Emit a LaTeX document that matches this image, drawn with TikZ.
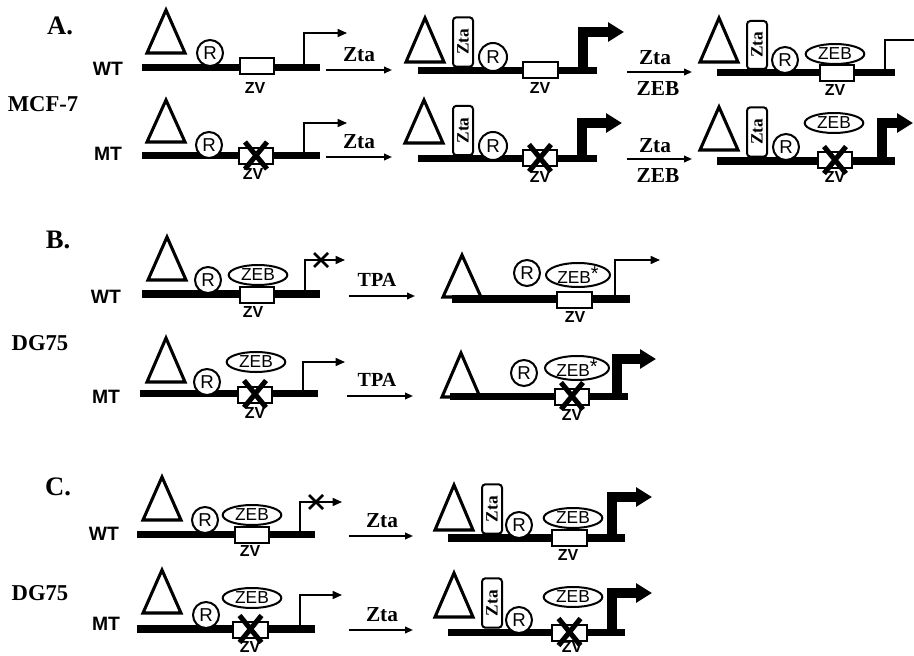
\documentclass[tikz,border=0pt]{standalone}
\usepackage{fontspec}
\setmainfont{Liberation Serif}
\setsansfont{Liberation Sans}
\usetikzlibrary{arrows.meta,shapes.geometric}

% one unit = one pixel of the 914x656 frame, y grows downwards
\tikzset{
  x=0.75pt, y=-0.75pt,
  dna/.style={line width=5.3pt},
  tri/.style={line width=2.3pt, line join=miter},
  rnode/.style={circle, draw, fill=white, line width=1.5pt, minimum size=19.5pt,
    inner sep=0pt, font=\sffamily\fontsize{14}{14}\selectfont},
  zeb/.style={ellipse, draw, fill=white, line width=1.5pt, minimum width=44pt,
    minimum height=15pt, inner sep=0pt, font=\sffamily\fontsize{13}{13}\selectfont},
  zebstar/.style={zeb, minimum width=48pt, minimum height=18pt},
  zvbox/.style={rectangle, draw, fill=white, line width=1.5pt, minimum width=26pt,
    minimum height=12pt, inner sep=0pt},
  zvlab/.style={font=\sffamily\bfseries\fontsize{12}{12}\selectfont, inner sep=0pt},
  ztabox/.style={rectangle, rounded corners=2.5pt, draw, fill=white, line width=1.5pt,
    rotate=90, minimum width=37pt, minimum height=15pt, inner sep=0pt,
    font=\bfseries\fontsize{13}{13}\selectfont},
  zvx/.style={line width=3.8pt},
  thinprom/.style={line width=1.2pt, -{Triangle[length=7pt,width=6pt]}},
  thickprom/.style={line width=7pt, line join=miter, -{Triangle[length=12pt,width=14pt]}},
  blockx/.style={line width=2pt},
  trans/.style={line width=1.3pt, -{Triangle[length=6pt,width=5pt]}},
  translab/.style={font=\bfseries\fontsize{16}{16}\selectfont, inner sep=0pt},
  rowlab/.style={font=\sffamily\bfseries\fontsize{14.5}{14.5}\selectfont, inner sep=0pt},
  panlab/.style={font=\bfseries\fontsize{20}{20}\selectfont, inner sep=0pt},
  celllab/.style={font=\bfseries\fontsize{17}{17}\selectfont, inner sep=0pt},
}

% hollow enhancer triangle: apex x, apex y, base y
\newcommand{\enhtri}[3]{\draw[tri] (#1-19,#3) -- (#1,#2) -- (#1+19,#3) -- cycle;}
% heavy cross over a mutated ZV site
\newcommand{\zvcross}[1]{\draw[zvx] ([shift={(-11,-14)}]#1.center) -- ([shift={(11,13)}]#1.center)
  ([shift={(11,-14)}]#1.center) -- ([shift={(-11,13)}]#1.center);}
% thin cross blocking a promoter arrow
\newcommand{\blockcross}[1]{\draw[blockx] ([shift={(-7,-7)}]#1) -- ([shift={(7,7)}]#1)
  ([shift={(7,-7)}]#1) -- ([shift={(-7,7)}]#1);}
% modified ZEB label
\newcommand{\zebmod}{ZEB\raisebox{0.35ex}{\fontsize{15}{15}\selectfont*}}

\begin{document}
\begin{tikzpicture}
\useasboundingbox (0,0) rectangle (914,656);
\fill[white] (0,0) rectangle (914,656);

% ================= panel A =================
\node[panlab] (labA) at (60,26) {A.};
\node[celllab] (labMCF) at (43,104) {MCF-7};

% --- A, WT, before
\node[rowlab] (aWT) at (108,69) {WT};
\draw[dna] (142,67.5) -- (320,67.5);
\enhtri{166}{10}{53}
\node[rnode] (aR1) at (210,53) {R};
\node[zvbox] (aZV1) at (257,66.5) {};
\node[zvlab] (aZV1l) at (255,88) {ZV};
\coordinate (aP1) at (304,67.5);
\coordinate (aP1t) at (347,33);
\draw[thinprom] (aP1) |- (aP1t);

\coordinate (aT1s) at (326,70);
\coordinate (aT1e) at (392,70);
\draw[trans] (aT1s) -- (aT1e);
\node[translab] (aT1l) at (359,55) {Zta};

% --- A, WT, with Zta
\draw[dna] (418,70.5) -- (597,70.5);
\enhtri{425}{18}{62}
\node[ztabox] (aZta2) at (463,42) {Zta};
\node[rnode, minimum size=21pt] (aR2) at (493,57) {R};
\node[zvbox] (aZV2) at (540.5,70.5) {};
\node[zvlab] (aZV2l) at (540,88) {ZV};
\coordinate (aP2) at (583,70);
\coordinate (aP2t) at (624,32);
\draw[thickprom] (aP2) |- (aP2t);

\coordinate (aT2s) at (627,72);
\coordinate (aT2e) at (692,72);
\draw[trans] (aT2s) -- (aT2e);
\node[translab] (aT2a) at (655,58) {Zta};
\node[translab] (aT2b) at (658,89) {ZEB};

% --- A, WT, with Zta and ZEB
\draw[dna] (717,72.5) -- (895,72.5);
\enhtri{719}{18}{62}
\node[ztabox, minimum width=36pt] (aZta3) at (757,45) {Zta};
\node[rnode] (aR3) at (785,60) {R};
\node[zvbox] (aZV3) at (837,73) {};
\node[zeb] (aZEB3) at (835,54) {ZEB};
\node[zvlab] (aZV3l) at (835,90) {ZV};
\coordinate (aP3) at (885,72.5);
\coordinate (aP3t) at (914,40);
\draw[line width=1.2pt] (aP3) |- (aP3t);

% --- A, MT, before
\node[rowlab] (aMT) at (108,154) {MT};
\draw[dna] (142,155.5) -- (320,155.5);
\enhtri{166}{100}{142}
\node[rnode] (aR4) at (209,145) {R};
\node[zvbox] (aZV4) at (256,156) {};
\node[zvlab] (aZV4l) at (253,174) {ZV};
\zvcross{aZV4}
\coordinate (aP4) at (304,155.5);
\coordinate (aP4t) at (347,123);
\draw[thinprom] (aP4) |- (aP4t);

\coordinate (aT4s) at (326,157);
\coordinate (aT4e) at (392,157);
\draw[trans] (aT4s) -- (aT4e);
\node[translab] (aT4l) at (359,142) {Zta};

% --- A, MT, with Zta
\draw[dna] (418,158.5) -- (597,158.5);
\enhtri{424}{100}{143}
\node[ztabox] (aZta5) at (463,130.5) {Zta};
\node[rnode, minimum size=21pt] (aR5) at (493,146) {R};
\node[zvbox] (aZV5) at (540,158.5) {};
\node[zvlab] (aZV5l) at (540,177) {ZV};
\zvcross{aZV5}
\coordinate (aP5) at (582,158);
\coordinate (aP5t) at (622,123);
\draw[thickprom] (aP5) |- (aP5t);

\coordinate (aT5s) at (627,159);
\coordinate (aT5e) at (692,159);
\draw[trans] (aT5s) -- (aT5e);
\node[translab] (aT5a) at (655,146) {Zta};
\node[translab] (aT5b) at (658,176) {ZEB};

% --- A, MT, with Zta and ZEB
\draw[dna] (717,161) -- (895,161);
\enhtri{719}{107}{150}
\node[ztabox] (aZta6) at (757,132) {Zta};
\node[rnode] (aR6) at (786,147) {R};
\node[zeb] (aZEB6) at (834,123) {ZEB};
\node[zvbox] (aZV6) at (835,160.5) {};
\node[zvlab] (aZV6l) at (835,177) {ZV};
\zvcross{aZV6}
\coordinate (aP6) at (882,161);
\coordinate (aP6t) at (913,123);
\draw[thickprom] (aP6) |- (aP6t);

% ================= panel B =================
\node[panlab] (labB) at (58,240) {B.};
\node[celllab] (labDGb) at (40,343) {DG75};

% --- B, WT, before
\node[rowlab] (bWT) at (106,297) {WT};
\draw[dna] (142,294) -- (320,294);
\enhtri{167}{237}{280}
\node[rnode] (bR1) at (208,280) {R};
\node[zvbox] (bZV1) at (257,294.5) {};
\node[zeb] (bZEB1) at (258,275) {ZEB};
\node[zvlab] (bZV1l) at (253,312) {ZV};
\coordinate (bP1) at (305,294);
\coordinate (bP1t) at (345,260);
\draw[thinprom] (bP1) |- (bP1t);
\coordinate (bX1) at (321,260);
\blockcross{bX1}

\coordinate (bT1s) at (349,296);
\coordinate (bT1e) at (415,296);
\draw[trans] (bT1s) -- (bT1e);
\node[translab, font=\bfseries\fontsize{15}{15}\selectfont] (bT1l) at (377,280) {TPA};

% --- B, WT, after TPA
\draw[dna] (452,299) -- (630,299);
\enhtri{462}{255}{297}
\node[rnode] (bR2) at (527,273) {R};
\node[zvbox] (bZV2) at (574.5,300) {};
\node[zebstar] (bZEB2) at (578,275) {\zebmod};
\node[zvlab] (bZV2l) at (575,317) {ZV};
\coordinate (bP2) at (615,299);
\coordinate (bP2t) at (660,260);
\draw[thinprom] (bP2) |- (bP2t);

% --- B, MT, before
\node[rowlab] (bMT) at (106,397) {MT};
\draw[dna] (140,393.5) -- (318,393.5);
\enhtri{166}{338}{382}
\node[rnode] (bR3) at (207,382) {R};
\node[zeb] (bZEB3) at (256,362) {ZEB};
\node[zvbox] (bZV3) at (255,394.5) {};
\node[zvlab] (bZV3l) at (255,413) {ZV};
\zvcross{bZV3}
\coordinate (bP3) at (303,393.5);
\coordinate (bP3t) at (345,362);
\draw[thinprom] (bP3) |- (bP3t);

\coordinate (bT3s) at (347,396);
\coordinate (bT3e) at (413,396);
\draw[trans] (bT3s) -- (bT3e);
\node[translab, font=\bfseries\fontsize{15}{15}\selectfont] (bT3l) at (377,380) {TPA};

% --- B, MT, after TPA
\draw[dna] (450,396.5) -- (628,396.5);
\enhtri{461}{353}{397}
\node[rnode] (bR4) at (524,373) {R};
\node[zebstar] (bZEB4) at (577,368) {\zebmod};
\node[zvbox] (bZV4) at (572,396.5) {};
\node[zvlab] (bZV4l) at (572,415) {ZV};
\zvcross{bZV4}
\coordinate (bP4) at (617,396);
\coordinate (bP4t) at (656,359);
\draw[thickprom] (bP4) |- (bP4t);

% ================= panel C =================
\node[panlab] (labC) at (58,487) {C.};
\node[celllab] (labDGc) at (40,593) {DG75};

% --- C, WT, before
\node[rowlab] (cWT) at (104,534) {WT};
\draw[dna] (137,534.5) -- (315,534.5);
\enhtri{162}{477}{520}
\node[rnode] (cR1) at (205,520) {R};
\node[zvbox] (cZV1) at (252,534.5) {};
\node[zeb] (cZEB1) at (252,515) {ZEB};
\node[zvlab] (cZV1l) at (250,551) {ZV};
\coordinate (cP1) at (300,534.5);
\coordinate (cP1t) at (342,502);
\draw[thinprom] (cP1) |- (cP1t);
\coordinate (cX1) at (316,502);
\blockcross{cX1}

\coordinate (cT1s) at (349,536);
\coordinate (cT1e) at (413,536);
\draw[trans] (cT1s) -- (cT1e);
\node[translab] (cT1l) at (382,521) {Zta};

% --- C, WT, with Zta
\draw[dna] (448,538) -- (625,538);
\enhtri{454}{485}{530}
\node[ztabox] (cZta2) at (492,509) {Zta};
\node[rnode] (cR2) at (519,525) {R};
\node[zvbox] (cZV2) at (569.5,538) {};
\node[zeb] (cZEB2) at (573,518) {ZEB};
\node[zvlab] (cZV2l) at (568,555) {ZV};
\coordinate (cP2) at (612,538);
\coordinate (cP2t) at (652,497);
\draw[thickprom] (cP2) |- (cP2t);

% --- C, MT, before
\node[rowlab] (cMT) at (106,624) {MT};
\draw[dna] (137,629) -- (315,629);
\enhtri{162}{570}{613}
\node[rnode] (cR3) at (206,615) {R};
\node[zeb] (cZEB3) at (252,598) {ZEB};
\node[zvbox] (cZV3) at (250.5,629.5) {};
\node[zvlab] (cZV3l) at (250,647) {ZV};
\zvcross{cZV3}
\coordinate (cP3) at (300,629);
\coordinate (cP3t) at (342,595);
\draw[thinprom] (cP3) |- (cP3t);

\coordinate (cT3s) at (349,630);
\coordinate (cT3e) at (413,630);
\draw[trans] (cT3s) -- (cT3e);
\node[translab] (cT3l) at (382,615) {Zta};

% --- C, MT, with Zta
\draw[dna] (448,632.5) -- (625,632.5);
\enhtri{454}{573}{617}
\node[ztabox] (cZta4) at (492,603) {Zta};
\node[rnode] (cR4) at (519,620) {R};
\node[zeb] (cZEB4) at (573,597) {ZEB};
\node[zvbox] (cZV4) at (569.5,632.5) {};
\node[zvlab] (cZV4l) at (572,647) {ZV};
\zvcross{cZV4}
\coordinate (cP4) at (612,632.5);
\coordinate (cP4t) at (652,593);
\draw[thickprom] (cP4) |- (cP4t);

\end{tikzpicture}
\end{document}
